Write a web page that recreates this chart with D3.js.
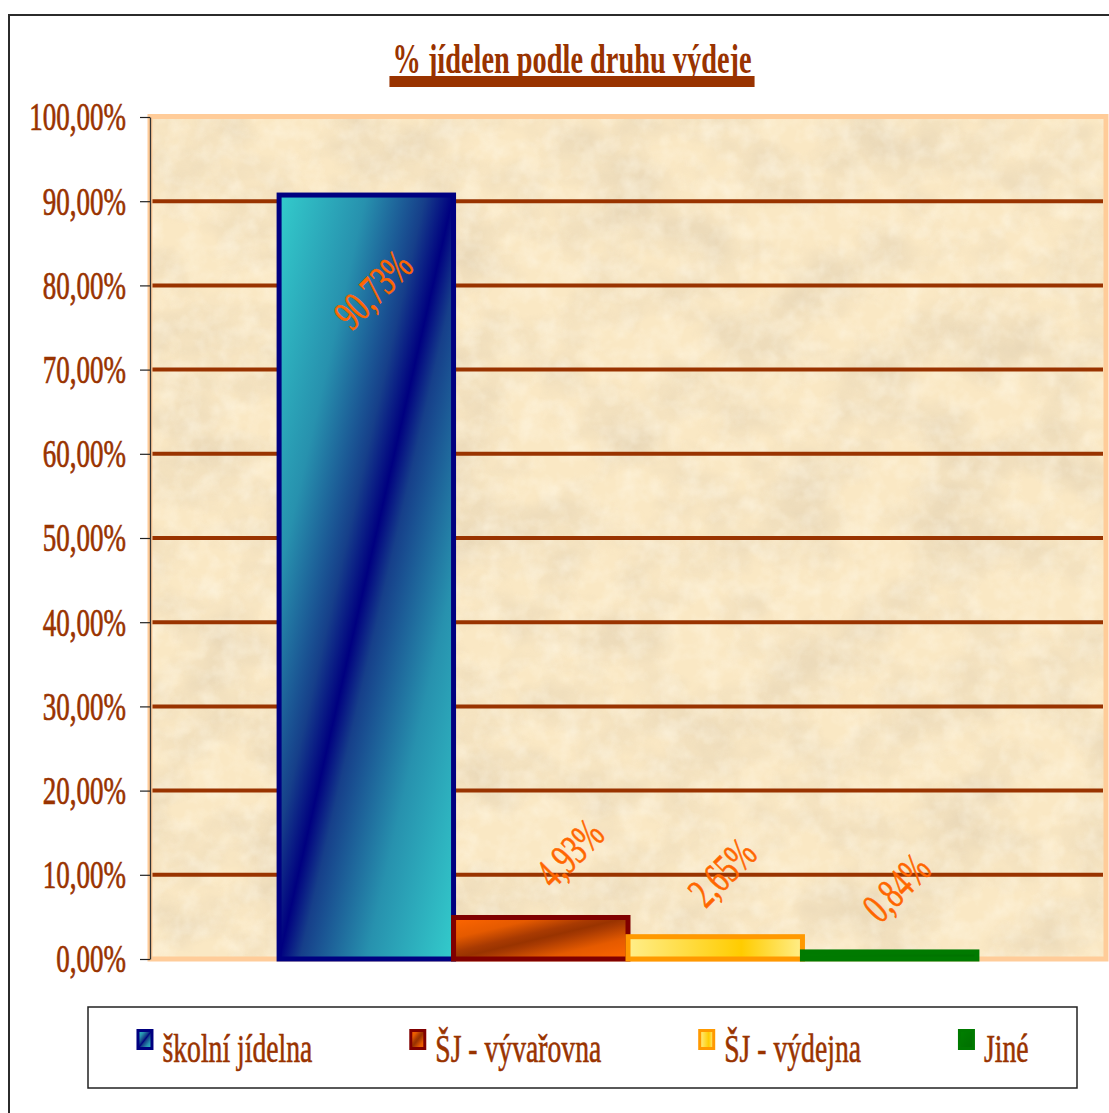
<!DOCTYPE html>
<html>
<head>
<meta charset="utf-8">
<script src="https://cdn.jsdelivr.net/npm/d3@7"></script>
<style>
  html, body { margin: 0; padding: 0; background: #ffffff; }
  svg { display: block; }
</style>
</head>
<body>
<svg id="chart" width="1109" height="1113"></svg>
<script>
// ---- data ----
const chartTitle = "% jídelen podle druhu výdeje";
const series = ["školní jídelna", "ŠJ - vývařovna", "ŠJ - výdejna", "Jiné"];
const values = [90.73, 4.93, 2.65, 0.84];
const tickValues = [0, 10, 20, 30, 40, 50, 60, 70, 80, 90, 100];
const tickLabels = ["0,00%", "10,00%", "20,00%", "30,00%", "40,00%", "50,00%",
                    "60,00%", "70,00%", "80,00%", "90,00%", "100,00%"];

// ---- layout & style ----
const W = 1109, H = 1113;
const plot = { left: 150, right: 1106, top: 117, bottom: 959 };
const brown = "#993300";
const labelOrange = "#FF6600";
const font = "'Liberation Serif', 'DejaVu Serif', serif";
const squeeze = 0.675;           // narrow, condensed lettering
const gapWidth = 1.48;           // space between bar groups, in bar widths

const seriesStyle = [
  { stroke: "#000080", grad: "gSchool" },
  { stroke: "#800000", grad: "gKitchen" },
  { stroke: "#FF9900", grad: "gServe" },
  { stroke: "#007A00", grad: "gOther" }
];

const svg = d3.select("#chart");
const defs = svg.append("defs");

// parchment mottling
const f = defs.append("filter").attr("id", "parchment")
  .attr("x", 0).attr("y", 0).attr("width", 1).attr("height", 1);
f.append("feTurbulence").attr("type", "fractalNoise")
  .attr("baseFrequency", "0.012 0.016").attr("numOctaves", 4).attr("seed", 7).attr("result", "n");
f.append("feColorMatrix").attr("in", "n").attr("type", "matrix")
  .attr("values", "0 0 0 0 0.74  0 0 0 0 0.62  0 0 0 0 0.44  1.9 0 0 0 -0.72");
const f2 = defs.append("filter").attr("id", "speckle")
  .attr("x", 0).attr("y", 0).attr("width", 1).attr("height", 1);
f2.append("feTurbulence").attr("type", "fractalNoise")
  .attr("baseFrequency", "0.05").attr("numOctaves", 3).attr("seed", 19).attr("result", "n");
f2.append("feColorMatrix").attr("in", "n").attr("type", "matrix")
  .attr("values", "0 0 0 0 1  0 0 0 0 0.95  0 0 0 0 0.82  1.6 0 0 0 -0.62");

// two-colour diagonal shading: dark seam along the bar's diagonal
function diagGrad(id, edge, mid, near, far) {
  const g = defs.append("linearGradient").attr("id", id)
    .attr("x1", 0).attr("y1", 0).attr("x2", 1).attr("y2", 1);
  [[0, edge], [0.25, far], [0.42, near], [0.5, mid], [0.56, near], [0.75, far], [1, edge]]
    .forEach(([o, c]) => g.append("stop").attr("offset", o).attr("stop-color", c));
}
diagGrad("gSchool", "#33CCCC", "#000080", "#163F8A", "#2791AE");
diagGrad("gKitchen", "#FF6600", "#993300", "#A83A02", "#E55A00");
const gs = defs.append("linearGradient").attr("id", "gServe")
  .attr("x1", 0).attr("y1", 0).attr("x2", 1).attr("y2", 0);
gs.append("stop").attr("offset", 0).attr("stop-color", "#FFEE8A");
gs.append("stop").attr("offset", 0.65).attr("stop-color", "#FFCC00");
gs.append("stop").attr("offset", 1).attr("stop-color", "#FFEE8A");
const go = defs.append("linearGradient").attr("id", "gOther")
  .attr("x1", 0).attr("y1", 0).attr("x2", 1).attr("y2", 1);
go.append("stop").attr("offset", 0).attr("stop-color", "#008000");
go.append("stop").attr("offset", 1).attr("stop-color", "#006E00");

// outer chart frame
svg.append("rect").attr("x", 9).attr("y", 15).attr("width", 1140).attr("height", 1140)
  .attr("fill", "#ffffff").attr("stroke", "#2b2b2b").attr("stroke-width", 2);

// ---- scales ----
const y = d3.scaleLinear().domain([0, 100]).range([plot.bottom, plot.top]);
const plotW = plot.right - plot.left;
const barW = plotW / (series.length + gapWidth);
const groupStart = plot.left + gapWidth * barW / 2;
const x = d3.scaleBand().domain(series)
  .range([groupStart, groupStart + series.length * barW]).padding(0);

// ---- plot area ----
const pw = plot.right - plot.left, ph = plot.bottom - plot.top;
svg.append("rect").attr("x", plot.left).attr("y", plot.top).attr("width", pw).attr("height", ph)
  .attr("fill", "#FAE8C4");
svg.append("rect").attr("x", plot.left).attr("y", plot.top).attr("width", pw).attr("height", ph)
  .attr("fill", "#000").attr("filter", "url(#parchment)").attr("opacity", 0.7);
svg.append("rect").attr("x", plot.left).attr("y", plot.top).attr("width", pw).attr("height", ph)
  .attr("fill", "#000").attr("filter", "url(#speckle)").attr("opacity", 0.6);

// gridlines
svg.append("g").selectAll("line")
  .data(tickValues.filter(v => v > 0 && v < 100))
  .join("line")
  .attr("x1", plot.left + 2).attr("x2", plot.right - 3)
  .attr("y1", d => y(d)).attr("y2", d => y(d))
  .attr("stroke", brown).attr("stroke-width", 4);

// plot border
svg.append("rect").attr("x", plot.left).attr("y", plot.top - 0.5).attr("width", pw).attr("height", ph + 0.5)
  .attr("fill", "none").attr("stroke", "#FFCC99").attr("stroke-width", 5);

// ---- bars ----
svg.append("g").selectAll("rect")
  .data(series.map((s, i) => ({ s, v: values[i], st: seriesStyle[i] })))
  .join("rect")
  .attr("x", d => x(d.s))
  .attr("y", d => y(d.v))
  .attr("width", x.bandwidth())
  .attr("height", d => y(0) - y(d.v))
  .attr("fill", d => `url(#${d.st.grad})`)
  .attr("stroke", d => d.st.stroke)
  .attr("stroke-width", 5);

// ---- y axis ----
const axis = d3.axisLeft(y).tickValues(tickValues).tickSize(10).tickSizeOuter(0)
  .tickFormat((d, i) => tickLabels[i]);
const ax = svg.append("g").attr("transform", `translate(${plot.left},0)`).call(axis);
ax.select(".domain").attr("stroke", "#333").attr("stroke-width", 1.3);
ax.selectAll(".tick line").attr("stroke", "#222").attr("stroke-width", 1.2);
ax.selectAll(".tick text")
  .attr("font-family", font).attr("font-size", 40).attr("fill", brown)
  .attr("stroke", brown).attr("stroke-width", 0.7)
  .attr("text-anchor", "end")
  .attr("x", -24 / squeeze).attr("dy", "0.32em")
  .attr("transform", `scale(${squeeze},1)`);

// ---- value labels (rotated) ----
const fmt = v => v.toFixed(2).replace(".", ",") + "%";
const labelShift = { "ŠJ - vývařovna": 22 };   // keep the first small label clear of the tall bar
svg.append("g").selectAll("text")
  .data(series.map((s, i) => ({ s, v: values[i] })))
  .join("text")
  .attr("transform", d => {
    const cx = x(d.s) + x.bandwidth() / 2 + 7 + (labelShift[d.s] || 0);
    const top = y(d.v);
    const cy = (top - 110 < plot.top) ? top + 95 : top - 64;
    return `translate(${cx},${cy}) rotate(-45) scale(${squeeze},1)`;
  })
  .attr("text-anchor", "middle").attr("dy", "0.33em")
  .attr("font-family", font).attr("font-size", 43).attr("fill", labelOrange)
  .attr("stroke", labelOrange).attr("stroke-width", 0.6)
  .text(d => fmt(d.v));

// ---- title ----
const t = svg.append("text")
  .attr("transform", `translate(572,73) scale(${squeeze},1)`)
  .attr("text-anchor", "middle")
  .attr("font-family", font).attr("font-size", 42).attr("font-weight", "bold")
  .attr("fill", brown).text(chartTitle);
const tw = t.node().getComputedTextLength() * squeeze;
svg.append("rect").attr("x", 572 - tw / 2 - 3).attr("y", 76).attr("width", tw + 6).attr("height", 11)
  .attr("fill", brown);

// ---- legend ----
const legend = { x: 88, y: 1007, w: 989, h: 81 };
svg.append("rect").attr("x", legend.x).attr("y", legend.y).attr("width", legend.w).attr("height", legend.h)
  .attr("fill", "#fff").attr("stroke", "#222").attr("stroke-width", 1.5);
const lg = svg.append("g");
const items = series.map((s, i) => {
  const g = lg.append("g");
  g.append("rect").attr("x", 1.5).attr("y", 1029 + 1.5).attr("width", 14).attr("height", 18)
    .attr("fill", `url(#${seriesStyle[i].grad})`)
    .attr("stroke", seriesStyle[i].stroke).attr("stroke-width", 3);
  const tx = g.append("text")
    .attr("transform", `translate(26,1062) scale(${squeeze},1)`)
    .attr("font-family", font).attr("font-size", 41).attr("fill", brown)
    .attr("stroke", brown).attr("stroke-width", 0.6).text(s);
  const w = 26 + tx.node().getComputedTextLength() * squeeze;
  return { g, w };
});
const sumW = d3.sum(items, d => d.w);
const gap = (legend.w - sumW) / items.length;
let cx = legend.x + gap / 2;
items.forEach(it => { it.g.attr("transform", `translate(${cx},0)`); cx += it.w + gap; });
</script>
</body>
</html>
